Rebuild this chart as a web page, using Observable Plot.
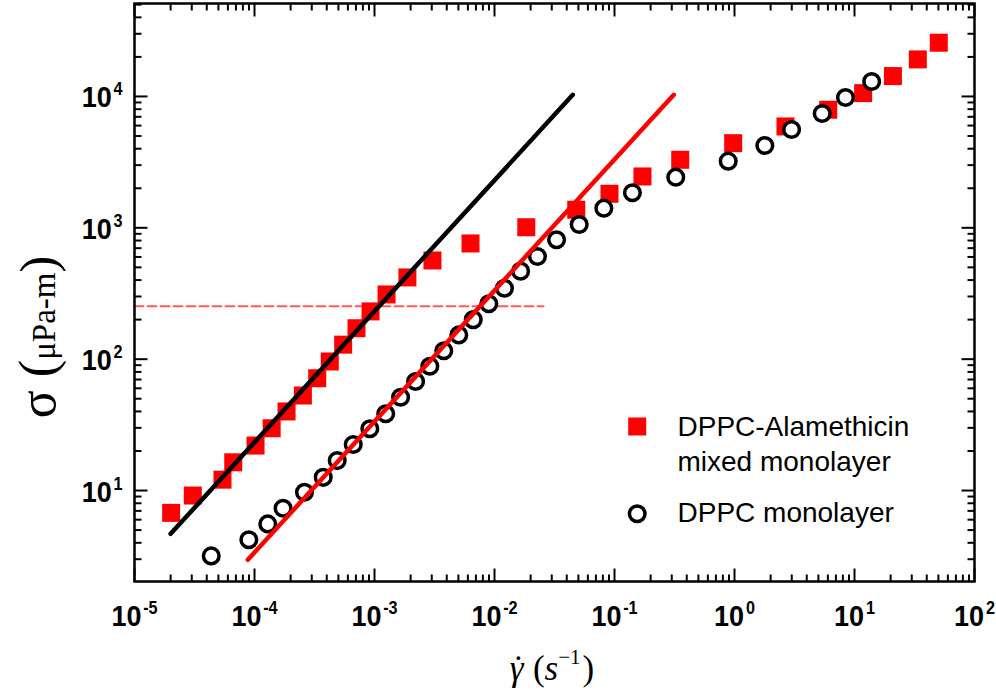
<!DOCTYPE html>
<html><head><meta charset="utf-8">
<script src="https://cdn.jsdelivr.net/npm/d3@7"></script>
<script src="https://cdn.jsdelivr.net/npm/@observablehq/plot@0.6"></script>
<style>body{margin:0;background:#fff}</style>
</head><body><div id="chart"></div>
<script>
// DPPC-Alamethicin mixed monolayer (red squares)
const alaX = [2.02e-5, 3.06e-5, 5.41e-5, 6.65e-5, 1.02e-4, 1.39e-4, 1.85e-4, 2.53e-4, 3.33e-4, 4.24e-4, 5.48e-4, 7.08e-4, 9.27e-4, 1.26e-3, 1.88e-3, 3.04e-3, 6.31e-3, 1.84e-2, 4.80e-2, 9.08e-2, 0.171, 0.353, 0.975, 2.66, 6.04, 11.8, 20.9, 33.7, 50.4];
const alaY = [6.76, 9.16, 12.1, 16.4, 22.0, 29.8, 40.0, 52.9, 71.6, 96.0, 129, 172, 231, 311, 419, 564, 760, 1010, 1372, 1816, 2460, 3296, 4409, 5910, 7920, 10600, 14290, 19140, 25640];
// DPPC monolayer (open circles)
const dppcX = [4.36e-5, 8.97e-5, 1.29e-4, 1.73e-4, 2.61e-4, 3.74e-4, 4.89e-4, 6.65e-4, 9.14e-4, 1.24e-3, 1.65e-3, 2.20e-3, 2.89e-3, 3.78e-3, 5.04e-3, 6.65e-3, 8.97e-3, 1.21e-2, 1.65e-2, 2.28e-2, 3.29e-2, 5.08e-2, 8.15e-2, 0.141, 0.324, 0.886, 1.79, 2.99, 5.38, 8.41, 13.9];
const dppcY = [3.18, 4.22, 5.57, 7.33, 9.70, 12.6, 16.9, 22.4, 29.5, 38.4, 51.3, 67.6, 88.3, 116, 153, 200, 264, 347, 468, 605, 811, 1060, 1411, 1849, 2430, 3217, 4233, 5606, 7424, 9826, 13010];
// fitted slope-1 lines
const fitAlaX = [2.0e-5, 0.0449], fitAlaY = [4.68, 10300];
const fitDppcX = [8.79e-5, 0.312], fitDppcY = [2.97, 10300];
// dashed reference level
const refX = [1e-5, 0.0256], refY = [253, 253];
const seriesNames = ["DPPC-Alamethicin\nmixed monolayer", "DPPC monolayer"];
const xExponents = [-5, -4, -3, -2, -1, 0, 1, 2];
const yExponents = [1, 2, 3, 4];
const xDomain = [1e-5, 1e2], yDomain = [2.03, 51000];

const pts = (X, Y) => X.map((x, i) => ({x, y: Y[i]}));
const ala = pts(alaX, alaY), dppc = pts(dppcX, dppcY);
const fitAla = pts(fitAlaX, fitAlaY), fitDppc = pts(fitDppcX, fitDppcY), ref = pts(refX, refY);

const xMajor = xExponents.map(e => 10 ** e);
const xMinor = xExponents.slice(0, -1).flatMap(e => d3.range(2, 10).map(m => m * 10 ** e));
const yMajor = yExponents.map(e => 10 ** e);
const yMinor = d3.range(0, 5).flatMap(e => d3.range(2, 10).map(m => m * 10 ** e)).filter(v => v > yDomain[0] && v < yDomain[1]);

const mk = f => ({draw(c, s) { const l = Math.sqrt(s / Math.PI); f(c, l); }});
const tickUp = mk((c, l) => { c.moveTo(0, 0); c.lineTo(0, -l); });
const tickDown = mk((c, l) => { c.moveTo(0, 0); c.lineTo(0, l); });
const tickRight = mk((c, l) => { c.moveTo(0, 0); c.lineTo(l, 0); });
const tickLeft = mk((c, l) => { c.moveTo(0, 0); c.lineTo(-l, 0); });
const tk = {stroke: "black", fill: "none", strokeWidth: 2};
const xTicks = (v, len) => [
  Plot.dot(v, {x: d => d, frameAnchor: "bottom", symbol: tickUp, r: len, ...tk}),
  Plot.dot(v, {x: d => d, frameAnchor: "top", symbol: tickDown, r: len, ...tk})
];
const yTicks = (v, len) => [
  Plot.dot(v, {y: d => d, frameAnchor: "left", symbol: tickRight, r: len, ...tk}),
  Plot.dot(v, {y: d => d, frameAnchor: "right", symbol: tickLeft, r: len, ...tk})
];

const plot = Plot.plot({
  width: 996, height: 692,
  marginLeft: 134, marginRight: 22, marginTop: 3, marginBottom: 111,
  x: {type: "log", domain: xDomain, axis: null},
  y: {type: "log", domain: yDomain, axis: null},
  style: {fontFamily: "'Liberation Sans', Arial, sans-serif", background: "white", overflow: "visible"},
  marks: [
    Plot.line(ref, {x: "x", y: "y", stroke: "#ff5a5a", strokeWidth: 2, strokeDasharray: "9,4"}),
    Plot.dot(ala, {x: "x", y: "y", symbol: "square", r: 10.16, fill: "#ff0000"}),
    Plot.dot(dppc, {x: "x", y: "y", symbol: "circle", r: 7.8, stroke: "black", strokeWidth: 3.5, fill: "white"}),
    Plot.line(fitAla, {x: "x", y: "y", stroke: "black", strokeWidth: 4.5, strokeLinecap: "round"}),
    Plot.line(fitDppc, {x: "x", y: "y", stroke: "#ff0000", strokeWidth: 4.5, strokeLinecap: "round"}),
    ...xTicks(xMinor, 7), ...xTicks(xMajor, 13),
    ...yTicks(yMinor, 7), ...yTicks(yMajor, 13),
    Plot.frame({stroke: "black", strokeWidth: 2.5}),
    Plot.text(xExponents, {x: e => 10 ** e, text: e => `10^${e}`, frameAnchor: "bottom", textAnchor: "middle", lineAnchor: "bottom", dy: 44, fontSize: 30, fontWeight: "bold"}),
    Plot.text(yExponents, {y: e => 10 ** e, text: e => `10^${e}`, frameAnchor: "left", textAnchor: "end", lineAnchor: "bottom", dx: -12, dy: 11, fontSize: 30, fontWeight: "bold"}),
    Plot.dot([seriesNames[0]], {frameAnchor: "top-left", dx: 502.7, dy: 423, symbol: "square", r: 10.16, fill: "#ff0000"}),
    Plot.text([seriesNames[0]], {text: d => d, frameAnchor: "top-left", dx: 543, dy: 467, textAnchor: "start", lineAnchor: "bottom", lineHeight: 1.25, fontSize: 28, fill: "black"}),
    Plot.dot([seriesNames[1]], {frameAnchor: "top-left", dx: 502.7, dy: 510.3, symbol: "circle", r: 7.8, stroke: "black", strokeWidth: 3.5, fill: "white"}),
    Plot.text([seriesNames[1]], {text: d => d, frameAnchor: "top-left", dx: 543, dy: 518.7, textAnchor: "start", lineAnchor: "bottom", fontSize: 28, fill: "black"})
  ]
});

const svg = d3.select(plot);
svg.selectAll("text").filter(function() { return this.textContent.includes("^"); }).each(function() {
  const [base, exp] = this.textContent.split("^");
  const sel = d3.select(this);
  sel.text(null).attr("font-size", 30).attr("font-weight", "bold");
  sel.append("tspan").attr("font-size", 30).text(base);
  sel.append("tspan").attr("font-size", 18).attr("dy", -12).attr("dx", 2).text(exp);
  sel.attr("transform", (sel.attr("transform") || "") + " scale(0.9,1)");
});
const serif = "'Liberation Serif', 'Times New Roman', serif";
const yt = svg.append("text").attr("transform", "translate(55,337) rotate(-90)")
  .attr("text-anchor", "middle").attr("font-family", serif).attr("fill", "black");
yt.append("tspan").attr("font-size", 52).text("σ (");
yt.append("tspan").attr("font-size", 33).text("μPa-m");
yt.append("tspan").attr("font-size", 50).text(")");
const xt = svg.append("text").attr("x", 552).attr("y", 680).attr("text-anchor", "middle")
  .attr("font-family", serif).attr("font-size", 35).attr("fill", "black");
xt.append("tspan").attr("font-style", "italic").text("γ");
xt.append("tspan").attr("dx", -11).text("˙");
xt.append("tspan").text(" (");
xt.append("tspan").attr("font-style", "italic").text("s");
xt.append("tspan").attr("font-size", 21).attr("dy", -16).text("−1");
xt.append("tspan").attr("dy", 16).attr("dx", 2).text(")");
document.getElementById("chart").appendChild(plot);
</script>
</body></html>
